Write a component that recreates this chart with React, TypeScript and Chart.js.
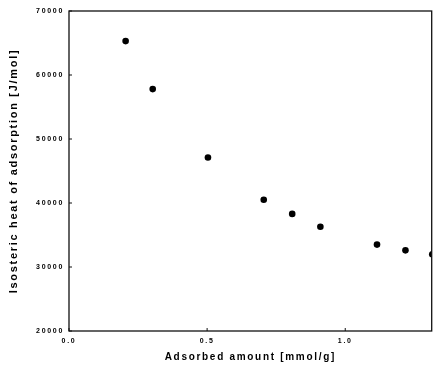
import React, { useEffect, useRef } from "react";
import { Chart, registerables } from "chart.js";

Chart.register(...registerables);

const adsorbedAmount = [0.205, 0.303, 0.503, 0.705, 0.808, 0.91, 1.115, 1.218, 1.315];
const isostericHeat = [65300, 57800, 47100, 40500, 38300, 36300, 33500, 32600, 32000];
const xTickValues = [0, 0.5, 1.0];
const xTickLabels = ["0.0", "0.5", "1.0"];
const yTickValues = [20000, 30000, 40000, 50000, 60000, 70000];
const xTitle = "Adsorbed amount [mmol/g]";
const yTitle = "Isosteric heat of adsorption [J/mol]";

const FONT = "'Liberation Sans', Arial, sans-serif";

const framePlugin = {
  id: "frame",
  beforeDraw(chart: any) {
    chart.ctx.letterSpacing = "1.7px";
  },
  afterDraw(chart: any) {
    const { ctx, chartArea } = chart;
    const { left, right, top, bottom } = chartArea;
    ctx.save();
    ctx.letterSpacing = "0px";
    ctx.strokeStyle = "#111";
    ctx.lineWidth = 1.3;
    ctx.strokeRect(left, top, right - left, bottom - top);
    ctx.lineWidth = 1;
    const xs = chart.scales.x;
    const ys = chart.scales.y;
    xTickValues.forEach((v) => {
      const px = xs.getPixelForValue(v);
      ctx.beginPath();
      ctx.moveTo(px, bottom);
      ctx.lineTo(px, bottom - 3);
      ctx.stroke();
    });
    yTickValues.forEach((v) => {
      const py = ys.getPixelForValue(v);
      ctx.beginPath();
      ctx.moveTo(left, py);
      ctx.lineTo(left + 3, py);
      ctx.stroke();
    });
    ctx.restore();
  },
};

export default function App() {
  const ref = useRef<HTMLCanvasElement>(null);
  useEffect(() => {
    if (!ref.current) return;
    const chart = new Chart(ref.current, {
      type: "scatter",
      data: {
        datasets: [
          {
            data: adsorbedAmount.map((x, i) => ({ x, y: isostericHeat[i] })),
            backgroundColor: "#000",
            borderWidth: 0,
            pointRadius: 3.3,
            pointHoverRadius: 3.3,
            showLine: false,
          },
        ],
      },
      options: {
        animation: false,
        responsive: false,
        events: [],
        layout: { padding: { left: 0, top: 11, right: 2, bottom: 0 } },
        plugins: { legend: { display: false }, tooltip: { enabled: false } },
        scales: {
          x: {
            type: "linear",
            min: 0,
            max: 1.313,
            afterBuildTicks: (s: any) => {
              s.ticks = xTickValues.map((v) => ({ value: v }));
            },
            afterFit: (s: any) => {
              s.height = 45;
            },
            grid: { display: false, drawTicks: false },
            border: { display: false },
            ticks: {
              padding: 6,
              color: "#000",
              font: { family: FONT, size: 7, weight: "bold" },
              callback: (v: any) => {
                const i = xTickValues.indexOf(Number(v));
                return i >= 0 ? xTickLabels[i] : "";
              },
              maxRotation: 0,
              autoSkip: false,
            },
            title: {
              display: true,
              text: xTitle,
              color: "#000",
              font: { family: FONT, size: 10, weight: "bold", lineHeight: 1.2 },
              padding: { top: 0, bottom: 13 },
            },
          },
          y: {
            type: "linear",
            min: 20000,
            max: 70000,
            afterBuildTicks: (s: any) => {
              s.ticks = yTickValues.map((v) => ({ value: v }));
            },
            afterFit: (s: any) => {
              s.width = 69;
            },
            grid: { display: false, drawTicks: false },
            border: { display: false },
            ticks: {
              padding: 5,
              color: "#000",
              font: { family: FONT, size: 7, weight: "bold" },
              callback: (v: any) => String(v),
              autoSkip: false,
            },
            title: {
              display: true,
              text: yTitle,
              color: "#000",
              font: { family: FONT, size: 11, weight: "bold", lineHeight: 1.2 },
              padding: { top: 7.5, bottom: 0 },
            },
          },
        },
      },
      plugins: [framePlugin],
    });
    return () => chart.destroy();
  }, []);
  return (
    <div style={{ position: "fixed", left: 0, top: 0, width: 435, height: 376, background: "#fff" }}>
      <canvas ref={ref} width={435} height={376} style={{ display: "block" }} />
    </div>
  );
}
